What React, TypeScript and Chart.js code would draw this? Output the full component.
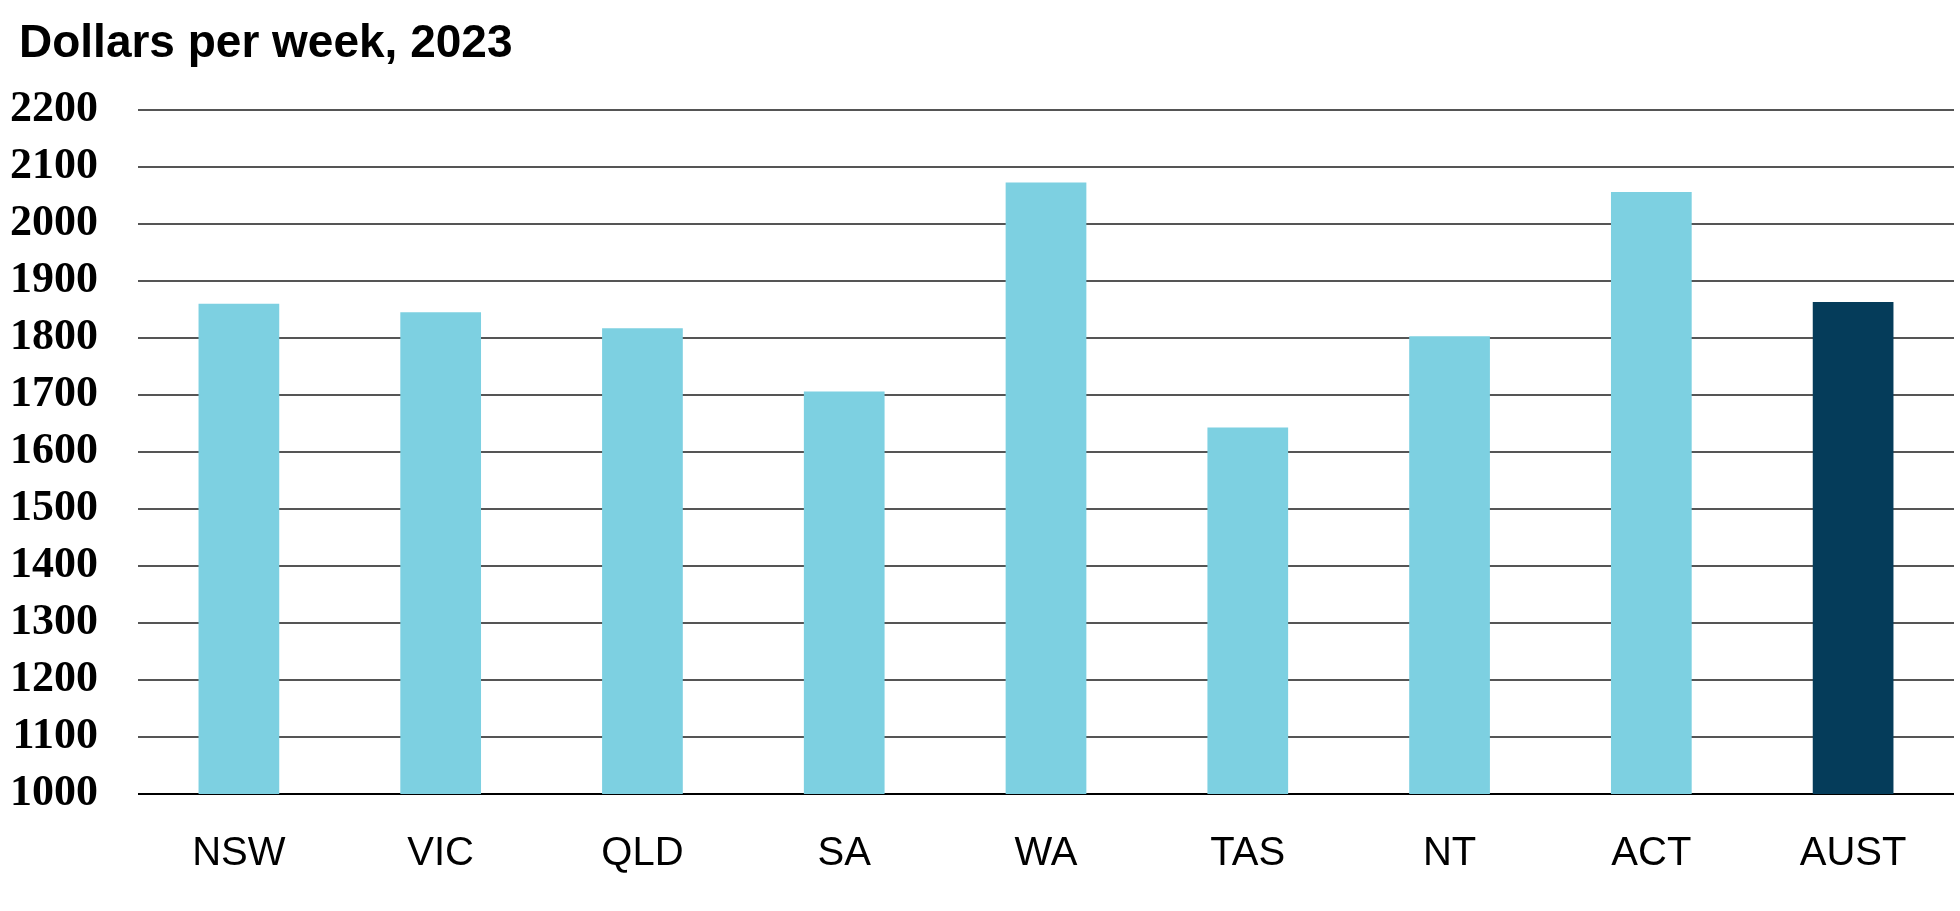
import React, { useEffect, useRef } from "react";
import { Chart, registerables } from "chart.js";

Chart.register(...registerables);

const TITLE = "Dollars per week, 2023";
const categories = ["NSW", "VIC", "QLD", "SA", "WA", "TAS", "NT", "ACT", "AUST"];
const earnings = [1860, 1845, 1817, 1706, 2073, 1643, 1803, 2056, 1863];
const yMin = 1000;
const yMax = 2200;
const yStep = 100;
const highlightCategory = "AUST";

const LIGHT = "#7dd0e1";
const DARK = "#053c5a";

const titlePlugin = {
  id: "leftTitle",
  afterDraw(chart: any) {
    const ctx = chart.ctx;
    ctx.save();
    ctx.fillStyle = "#000";
    ctx.font = 'bold 46px "Liberation Sans", Arial, sans-serif';
    ctx.textAlign = "left";
    ctx.textBaseline = "alphabetic";
    ctx.fillText(TITLE, 19, 56.5);
    ctx.restore();
  },
};

export default function App() {
  const ref = useRef<HTMLCanvasElement | null>(null);

  useEffect(() => {
    if (!ref.current) return;
    const colors = categories.map((c) => (c === highlightCategory ? DARK : LIGHT));
    const chart = new Chart(ref.current, {
      type: "bar",
      data: {
        labels: categories,
        datasets: [
          {
            data: earnings,
            backgroundColor: colors,
            borderWidth: 0,
            barPercentage: 0.4,
            categoryPercentage: 1.0,
          },
        ],
      },
      options: {
        animation: false,
        responsive: false,
        layout: { padding: { left: 10, right: 6, top: 110, bottom: 5 } },
        plugins: {
          legend: { display: false },
          title: { display: false },
          tooltip: { enabled: false },
        },
        scales: {
          x: {
            grid: { display: false, drawTicks: false },
            border: { display: false },
            afterFit: (s: any) => {
              s.height = 112;
            },
            ticks: {
              color: "#000",
              padding: 40,
              font: { family: '"Liberation Sans", Arial, sans-serif', size: 40, lineHeight: 1 },
            },
          },
          y: {
            min: yMin,
            max: yMax,
            border: { display: false },
            afterFit: (s: any) => {
              s.width = 128;
            },
            grid: {
              drawTicks: false,
              color: (c: any) => (c.tick && c.tick.value === yMin ? "#000" : "#555555"),
              lineWidth: 2,
            },
            ticks: {
              stepSize: yStep,
              autoSkip: false,
              color: "#000",
              padding: 40,
              callback: (v: any) => String(v),
              font: { family: '"Liberation Serif", "Times New Roman", serif', size: 44, weight: "bold" },
            },
          },
        },
      },
      plugins: [titlePlugin],
    });
    return () => chart.destroy();
  }, []);

  return (
    <canvas
      ref={ref}
      width={1960}
      height={911}
      style={{ position: "fixed", left: 0, top: 0, width: 1960, height: 911, display: "block", background: "#fff" }}
    />
  );
}
